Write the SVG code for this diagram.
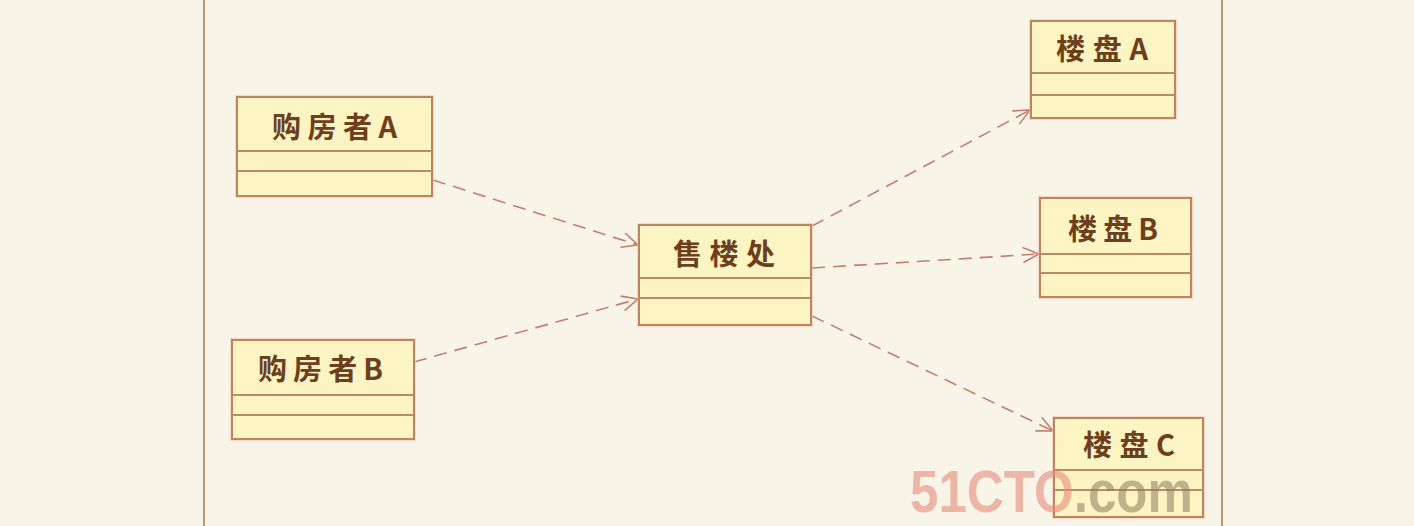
<svg xmlns="http://www.w3.org/2000/svg" width="1414" height="526" viewBox="0 0 1414 526">
  <defs>
    <marker id="open" viewBox="-17 -9 19 18" refX="0" refY="0" markerWidth="19" markerHeight="18" markerUnits="userSpaceOnUse" orient="auto">
      <path d="M -16 -7.5 L 0 0 L -16 7.5" fill="none" stroke="#c47e6e" stroke-width="1.6"/>
    </marker>
    <style>
      .box { fill: #fcf4c2; stroke: #bd8460; stroke-width: 2; }
      .halo { fill: none; stroke: #f0c4b8; stroke-width: 4; opacity: 0.6; }
      .div { stroke: #ba8a62; stroke-width: 2; }
      .lbl { font-family: "Noto Sans CJK SC", "Noto Sans", sans-serif; font-weight: bold; font-size: 29px; fill: #6e3f1c; text-anchor: middle; dominant-baseline: central; }
      .dep { fill: none; stroke: #c47e6e; stroke-width: 1.6; stroke-dasharray: 13 8; marker-end: url(#open); }
      .frame { stroke: #b99a78; stroke-width: 2; }
    </style>
  </defs>
  <rect x="0" y="0" width="1414" height="526" fill="#f8f4e7"/>
  <line class="frame" x1="204" y1="0" x2="204" y2="526"/>
  <line class="frame" x1="1222" y1="0" x2="1222" y2="526"/>

  <g id="edges">
    <line class="dep" x1="433" y1="180" x2="638" y2="245"/>
    <line class="dep" x1="414" y1="362" x2="638" y2="299"/>
    <line class="dep" x1="812" y1="226" x2="1030" y2="110"/>
    <line class="dep" x1="812" y1="268" x2="1039" y2="254"/>
    <line class="dep" x1="812" y1="316" x2="1053" y2="431"/>
  </g>

  <g id="buyerA">
    <rect class="halo" x="237" y="97" width="195" height="99"/>
    <rect class="box" x="237" y="97" width="195" height="99"/>
    <line class="div" x1="237" y1="151" x2="432" y2="151"/>
    <line class="div" x1="237" y1="171" x2="432" y2="171"/>
    <text class="lbl" x="334.5" y="125" textLength="125" lengthAdjust="spacing">购房者A</text>
  </g>

  <g id="buyerB">
    <rect class="halo" x="232" y="340" width="182" height="99"/>
    <rect class="box" x="232" y="340" width="182" height="99"/>
    <line class="div" x1="232" y1="395" x2="414" y2="395"/>
    <line class="div" x1="232" y1="415" x2="414" y2="415"/>
    <text class="lbl" x="320.5" y="367" textLength="125" lengthAdjust="spacing">购房者B</text>
  </g>

  <g id="salesOffice">
    <rect class="halo" x="639" y="225" width="172" height="100"/>
    <rect class="box" x="639" y="225" width="172" height="100"/>
    <line class="div" x1="639" y1="278" x2="811" y2="278"/>
    <line class="div" x1="639" y1="298" x2="811" y2="298"/>
    <text class="lbl" x="724" y="252" textLength="102" lengthAdjust="spacing">售楼处</text>
  </g>

  <g id="buildingA">
    <rect class="halo" x="1031" y="21" width="144" height="97"/>
    <rect class="box" x="1031" y="21" width="144" height="97"/>
    <line class="div" x1="1031" y1="73" x2="1175" y2="73"/>
    <line class="div" x1="1031" y1="95" x2="1175" y2="95"/>
    <text class="lbl" x="1102" y="47" textLength="92" lengthAdjust="spacing">楼盘A</text>
  </g>

  <g id="buildingB">
    <rect class="halo" x="1040" y="198" width="151" height="99"/>
    <rect class="box" x="1040" y="198" width="151" height="99"/>
    <line class="div" x1="1040" y1="254" x2="1191" y2="254"/>
    <line class="div" x1="1040" y1="273" x2="1191" y2="273"/>
    <text class="lbl" x="1113" y="227" textLength="90" lengthAdjust="spacing">楼盘B</text>
  </g>

  <g id="buildingC">
    <rect class="halo" x="1054" y="418" width="149" height="99"/>
    <rect class="box" x="1054" y="418" width="149" height="99"/>
    <line class="div" x1="1054" y1="470" x2="1203" y2="470"/>
    <line class="div" x1="1054" y1="490" x2="1203" y2="490"/>
    <text class="lbl" x="1129" y="443" textLength="92" lengthAdjust="spacing">楼盘C</text>
  </g>

  <g id="watermark">
    <text x="910" y="512" font-family="Liberation Sans, Arial, sans-serif" font-weight="bold" font-size="60" textLength="283" lengthAdjust="spacingAndGlyphs"><tspan fill="#e68a7a" fill-opacity="0.6">51CTO</tspan><tspan fill="#8c7c5c" fill-opacity="0.55">.com</tspan></text>
  </g>
</svg>
